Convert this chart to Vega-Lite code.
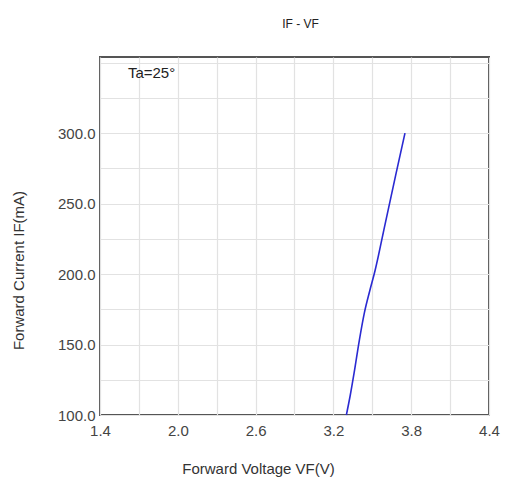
{
  "$schema": "https://vega.github.io/schema/vega-lite/v6.json",
  "autosize": {"type": "none"},
  "padding": {"left": 100, "top": 57, "right": 23, "bottom": 72},
  "width": 389,
  "height": 358,
  "background": "white",
  "title": {"text": "IF - VF", "fontSize": 12, "font": "Liberation Sans", "fontWeight": "normal", "color": "#222", "dx": 6, "offset": 26},
  "config": {
    "view": {"stroke": "#555", "strokeWidth": 2},
    "font": "Liberation Sans"
  },
  "datasets": {
    "curve": [
      {"V": 3.300, "I": 100},
      {"V": 3.330, "I": 114},
      {"V": 3.360, "I": 130},
      {"V": 3.400, "I": 153},
      {"V": 3.440, "I": 173},
      {"V": 3.480, "I": 188},
      {"V": 3.520, "I": 202},
      {"V": 3.600, "I": 236},
      {"V": 3.680, "I": 270},
      {"V": 3.752, "I": 300}
    ],
    "note": [{"V": 1.615, "I": 343, "label": "Ta=25°"}]
  },
  "resolve": {"axis": {"x": "independent", "y": "independent"}},
  "layer": [
    {
      "data": {"name": "curve"},
      "mark": {"type": "line", "color": "#2a2ad2", "strokeWidth": 1.6, "interpolate": "monotone"},
      "encoding": {
        "x": {
          "field": "V", "type": "quantitative",
          "scale": {"domain": [1.4, 4.4], "nice": false, "zero": false},
          "axis": {
            "orient": "bottom",
            "values": [1.4, 1.7, 2.0, 2.3, 2.6, 2.9, 3.2, 3.5, 3.8, 4.1, 4.4],
            "labels": false, "title": null, "ticks": false, "domain": false,
            "grid": true, "gridColor": "#e2e2e2", "gridWidth": 1.2
          }
        },
        "y": {
          "field": "I", "type": "quantitative",
          "scale": {"domain": [100, 354], "nice": false, "zero": false},
          "axis": {
            "orient": "left",
            "values": [100, 125, 150, 175, 200, 225, 250, 275, 300, 325, 350],
            "labels": false, "title": null, "ticks": false, "domain": false,
            "grid": true, "gridColor": "#e2e2e2", "gridWidth": 1.2
          }
        }
      }
    },
    {
      "data": {"name": "note"},
      "mark": {"type": "text", "align": "left", "baseline": "middle", "fontSize": 15, "color": "#222", "font": "Liberation Sans"},
      "encoding": {
        "x": {
          "field": "V", "type": "quantitative",
          "axis": {
            "orient": "bottom",
            "values": [1.4, 2.0, 2.6, 3.2, 3.8, 4.4],
            "format": ".1f",
            "labelOverlap": false,
            "title": "Forward Voltage VF(V)",
            "titleFontSize": 15, "titleFontWeight": "normal", "titleColor": "#333",
            "titleX": 158, "titleY": 53, "titleAnchor": "middle", "titleAlign": "center", "titleBaseline": "middle",
            "labelFontSize": 15, "labelColor": "#444", "labelPadding": 8, "labelDx": 5, "labelFlush": false,
            "ticks": false, "domain": false, "grid": false
          }
        },
        "y": {
          "field": "I", "type": "quantitative",
          "axis": {
            "orient": "left",
            "values": [100, 150, 200, 250, 300],
            "format": ".1f",
            "labelOverlap": false,
            "title": "Forward Current IF(mA)",
            "titleFontSize": 15, "titleFontWeight": "normal", "titleColor": "#333",
            "titleX": -82, "titleY": 213, "titleAnchor": "middle", "titleAlign": "center", "titleBaseline": "middle",
            "labelFontSize": 15, "labelColor": "#444", "labelPadding": 5, "labelFlush": false,
            "ticks": false, "domain": false, "grid": false
          }
        },
        "text": {"field": "label"}
      }
    }
  ]
}
